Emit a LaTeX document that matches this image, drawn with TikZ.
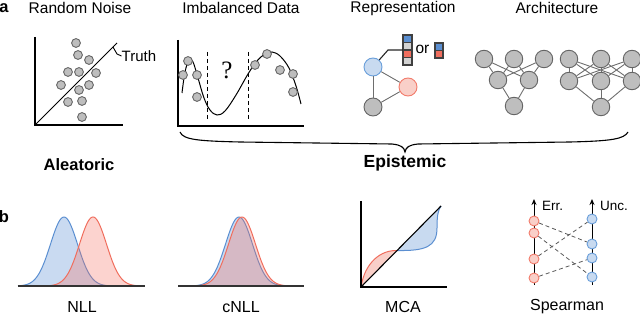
\documentclass[tikz,border=0pt]{standalone}
\usepackage{fontspec}
\setmainfont{Liberation Sans}
\newfontfamily\serifq{Liberation Serif}
\usetikzlibrary{arrows.meta}
\definecolor{gfill}{HTML}{BEBEBE}
\definecolor{gline}{HTML}{656565}
\definecolor{bfill}{HTML}{C8DAF0}
\definecolor{bline}{HTML}{6A9FDA}
\definecolor{rfill}{HTML}{F9CFC8}
\definecolor{rline}{HTML}{F27B6B}
\definecolor{bbase}{HTML}{6496D7}
\definecolor{rbase}{HTML}{F56E5F}
\definecolor{bmid}{HTML}{5B8FD1}
\definecolor{rmid}{HTML}{F06E5E}
\definecolor{cellgray}{HTML}{D2D2D2}
\definecolor{edgec}{HTML}{6E6E6E}
\begin{document}
\begin{tikzpicture}[x=1pt,y=-1pt,
  dot/.style={circle, draw=gline, fill=gfill, line width=0.9pt, minimum size=8.8pt, inner sep=0pt},
  gnode/.style={circle, draw=gline, fill=gfill, line width=0.9pt, minimum size=17.5pt, inner sep=0pt},
  bnode/.style={circle, draw=bline, fill=bfill, line width=0.9pt, minimum size=18pt, inner sep=0pt},
  rnode/.style={circle, draw=rline, fill=rfill, line width=0.9pt, minimum size=18pt, inner sep=0pt},
  sbn/.style={circle, draw=bline, fill=bfill, line width=0.9pt, minimum size=10pt, inner sep=0pt},
  srn/.style={circle, draw=rline, fill=rfill, line width=0.9pt, minimum size=10pt, inner sep=0pt},
  axisl/.style={line width=1.2pt, black},
  edgel/.style={line width=0.9pt, edgec},
  sdash/.style={line width=0.8pt, draw=black!65, dash pattern=on 4pt off 3pt},
  title/.style={font=\fontsize{15.5}{18}\selectfont, inner sep=0pt},
  lbl/.style={font=\fontsize{16}{19}\selectfont, inner sep=0pt},
  bigl/.style={font=\fontsize{16.5}{19}\selectfont\bfseries, inner sep=0pt},
  small/.style={font=\fontsize{13.5}{16}\selectfont, inner sep=0pt},
  bfillg/.style={fill=bbase, fill opacity=0.35},
  rfillg/.style={fill=rbase, fill opacity=0.3},
  bstroke/.style={draw=bmid, line width=1pt},
  rstroke/.style={draw=rmid, line width=1pt},
]
\useasboundingbox (0,0) rectangle (640,315);

% ---------- panel labels and titles
\node[bigl] (la) at (4,8) {a};
\node[bigl] (lb) at (4,217) {b};
\node[title] (t1) at (80,8) {Random Noise};
\node[title] (t2) at (241,8) {Imbalanced Data};
\node[title] (t3) at (403,8) {Representation};
\node[title] (t4) at (557,8) {Architecture};

% ---------- Random noise
\draw[axisl] (35,37) -- (35,125) -- (123,125);
\coordinate (o1) at (35,125);
\coordinate (e1) at (117,43);
\draw[line width=1pt] (o1) -- (e1);
\foreach \x/\y [count=\i] in {76/43,78/55,89/60,68/72,79/72,96/73,61/85,79/90,89/85,68/102,82/101,82/117}
  \node[dot] (rn\i) at (\x,\y) {};
\coordinate (tA) at (113,47);
\node[title, font=\fontsize{15}{18}\selectfont, anchor=west] (truth) at (121.5,56) {Truth};
\draw[line width=0.9pt] (tA) -- (117,54) -- (truth.west);

% ---------- Imbalanced data
\draw[axisl] (178,40) -- (178,126) -- (304,126);
\draw[line width=1pt, dash pattern=on 4pt off 3pt] (207,52) -- (207,120);
\draw[line width=1pt, dash pattern=on 4pt off 3pt] (248,52) -- (248,120);
\node[inner sep=0pt, font=\serifq\fontsize{25}{28}\selectfont] (q) at (227,70) {?};
\draw[line width=1pt] plot[smooth, tension=0.6] coordinates {(182,93) (185,72) (189,60) (193,62) (198,78) (204,98) (210,110) (217,115) (225,111) (236,95) (248,74) (257,61) (265,54) (272,52) (280,56) (289,68) (296,86) (301,104)};
\foreach \x/\y [count=\i] in {188/61,183/75,197/75,197/97,255/65,267/54,280/70,293/74,293/92}
  \node[dot] (im\i) at (\x,\y) {};

% ---------- Representation
\node[bnode] (bn) at (373,67) {};
\node[rnode] (rnn) at (408,87) {};
\node[gnode, minimum size=18pt] (gn) at (373,107) {};
\draw[edgel] (bn) -- (gn);
\draw[edgel] (bn) -- (rnn);
\draw[edgel] (rnn) -- (gn);
% vector
\fill[bmid] (403,35) rectangle (412,42.5);
\fill[cellgray] (403,42.5) rectangle (412,50);
\fill[rmid] (403,50) rectangle (412,57.5);
\fill[cellgray] (403,57.5) rectangle (412,65);
\draw[line width=1.1pt, black!75] (403,42.5) -- (412,42.5) (403,50) -- (412,50) (403,57.5) -- (412,57.5);
\draw[line width=1.3pt, black!75] (403,35) rectangle (412,65);
\coordinate (vecL) at (403,50);
\draw[line width=1.1pt, black!85] (bn) -- (388,50) -- (vecL);
\node[title] (or) at (422.5,49) {or};
\fill[bmid] (435,43) rectangle (443,50.5);
\fill[rmid] (435,50.5) rectangle (443,58);
\draw[line width=1.1pt, black!75] (435,50.5) -- (443,50.5);
\draw[line width=1.3pt, black!75] (435,43) rectangle (443,58);

% ---------- Architecture
\node[gnode] (a1) at (484,59) {};
\node[gnode] (a2) at (514,59) {};
\node[gnode] (a3) at (544,59) {};
\node[gnode] (a4) at (498,80) {};
\node[gnode] (a5) at (529,80) {};
\node[gnode] (a6) at (514,106) {};
\foreach \s in {a1,a2,a3} \foreach \t in {a4,a5} \draw[edgel] (\s) -- (\t);
\draw[edgel] (a4) -- (a6);
\draw[edgel] (a5) -- (a6);
\node[gnode] (c1) at (569,59) {};
\node[gnode] (c2) at (601,59) {};
\node[gnode] (c3) at (632,59) {};
\node[gnode] (c4) at (569,81) {};
\node[gnode] (c5) at (601,81) {};
\node[gnode] (c6) at (632,81) {};
\node[gnode] (c7) at (601,107) {};
\foreach \s in {c1,c2,c3} \foreach \t in {c4,c5,c6} \draw[edgel] (\s) -- (\t);
\foreach \s in {c4,c5,c6} \draw[edgel] (\s) -- (c7);

% ---------- Braces and categories
\draw[line width=1.1pt] (180,132) .. controls (183,140) and (200,141) .. (240,142) -- (392,144) .. controls (401,145) and (404,147) .. (405,152) .. controls (406,147) and (409,145) .. (418,144) -- (570,142) .. controls (612,141) and (624,139) .. (628,132);
\node[bigl] (alea) at (79,165) {Aleatoric};
\node[bigl, font=\fontsize{17.5}{20}\selectfont\bfseries] (epis) at (405,163) {Epistemic};

% ---------- NLL
\fill[bfillg] plot[domain=18:110, samples=80] (\x,{286-69*exp(-1*((\x-64)^2)/364.5)}) -- cycle;
\draw[bstroke] plot[domain=18:110, samples=80] (\x,{286-69*exp(-1*((\x-64)^2)/364.5)});
\fill[rfillg] plot[domain=47:140, samples=80] (\x,{286-69*exp(-1*((\x-93)^2)/364.5)}) -- cycle;
\draw[rstroke] plot[domain=47:140, samples=80] (\x,{286-69*exp(-1*((\x-93)^2)/364.5)});
\draw[line width=1.5pt, black!80] (18,286) -- (145,286);
\node[lbl] (nll) at (82,307) {NLL};

% ---------- cNLL
\fill[bfillg] plot[domain=193:285, samples=80] (\x,{286-69*exp(-1*((\x-239)^2)/364.5)}) -- cycle;
\draw[bstroke] plot[domain=193:285, samples=80] (\x,{286-69*exp(-1*((\x-239)^2)/364.5)});
\fill[rfillg] plot[domain=196:288, samples=80] (\x,{286-69*exp(-1*((\x-242)^2)/364.5)}) -- cycle;
\draw[rstroke] plot[domain=196:288, samples=80] (\x,{286-69*exp(-1*((\x-242)^2)/364.5)});
\draw[line width=1.5pt, black!80] (178,286) -- (304,286);
\node[lbl] (cnll) at (241,307) {cNLL};

% ---------- MCA
\fill[rfill] (361,287) .. controls (365,262) and (381,250) .. (397,250.5) -- cycle;
\fill[bfill] (397,250.5) .. controls (425,251) and (437,247) .. (437,228) .. controls (437,216) and (438,210) .. (441,206) -- cycle;
\draw[rstroke] (361,287) .. controls (365,262) and (381,250) .. (397,250.5);
\draw[bstroke] (397,250.5) .. controls (425,251) and (437,247) .. (437,228) .. controls (437,216) and (438,210) .. (441,206);
\draw[line width=1.1pt] (361,287) -- (441,206);
\draw[axisl] (361,201) -- (361,287) -- (447,287);
\node[lbl] (mca) at (403,307) {MCA};

% ---------- Spearman
\draw[line width=1pt, -{Stealth[length=6pt, width=5pt]}] (534,285) -- (534,199);
\draw[line width=1pt, -{Stealth[length=6pt, width=5pt]}] (592,285) -- (592,199);
\node[small, anchor=west] (err) at (542,206) {Err.};
\node[small, anchor=west] (unc) at (600,206) {Unc.};
\node[srn] (r1) at (534,221) {};
\node[srn] (r2) at (534,233) {};
\node[srn] (r3) at (534,259) {};
\node[srn] (r4) at (534,278) {};
\node[sbn] (b1) at (592,219) {};
\node[sbn] (b2) at (592,244) {};
\node[sbn] (b3) at (592,258) {};
\node[sbn] (b4) at (592,277) {};
\draw[sdash] (r1) -- (b2);
\draw[sdash] (r2) -- (b4);
\draw[sdash] (r3) -- (b1);
\draw[sdash] (r4) -- (b3);
\node[lbl] (spear) at (567,307) {Spearman};
\end{tikzpicture}
\end{document}
